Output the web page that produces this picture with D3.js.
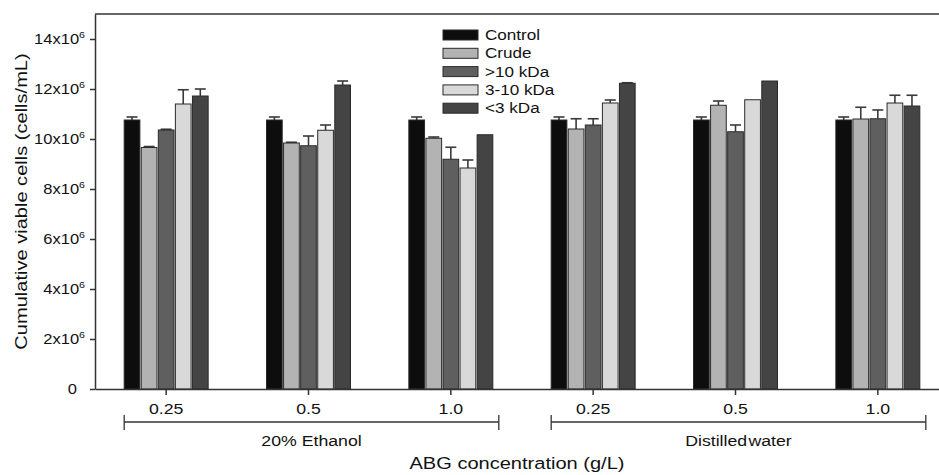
<!DOCTYPE html>
<html><head><meta charset="utf-8">
<script src="https://cdn.jsdelivr.net/npm/d3@7"></script>
<style>body{margin:0;background:#fff} svg{display:block;font-family:"Liberation Sans",Arial,Helvetica,sans-serif}</style>
</head><body><svg id="c" width="939" height="475"></svg>
<script>
// ---- data ----
const groups = ["0.25","0.5","1.0","0.25","0.5","1.0"];
const solvents = ["20% Ethanol","Distilled water"];
const solventOf = [0,0,0,1,1,1];
const series = ["Control","Crude",">10 kDa","3-10 kDa","<3 kDa"];
const control    = [10.76e6,10.76e6,10.76e6,10.76e6,10.76e6,10.76e6];
const controlErr = [0.12e6,0.12e6,0.12e6,0.12e6,0.12e6,0.12e6];
const crude      = [9.66e6,9.84e6,10.03e6,10.40e6,11.35e6,10.80e6];
const crudeErr   = [0.04e6,0.03e6,0.05e6,0.41e6,0.17e6,0.47e6];
const gt10       = [10.36e6,9.73e6,9.19e6,10.56e6,10.29e6,10.81e6];
const gt10Err    = [0.03e6,0.39e6,0.48e6,0.25e6,0.27e6,0.35e6];
const mid3to10   = [11.40e6,10.35e6,8.84e6,11.44e6,11.57e6,11.44e6];
const mid3to10Err= [0.57e6,0.21e6,0.32e6,0.12e6,0,0.31e6];
const lt3        = [11.72e6,12.16e6,10.17e6,12.23e6,12.32e6,11.32e6];
const lt3Err     = [0.28e6,0.16e6,0,0.02e6,0,0.43e6];
const yTicks     = [0,2e6,4e6,6e6,8e6,10e6,12e6,14e6];
const yTickBase  = ["0","2x10","4x10","6x10","8x10","10x10","12x10","14x10"];
const yTickExp   = ["","6","6","6","6","6","6","6"];
const yTitle = "Cumulative viable cells (cells/mL)";
const xTitle = "ABG concentration (g/L)";

const values = [control, crude, gt10, mid3to10, lt3];
const errors = [controlErr, crudeErr, gt10Err, mid3to10Err, lt3Err];
const colors = ["#0d0d0d","#b3b3b3","#5f5f5f","#d9d9d9","#444444"];

// ---- layout ----
const SX = 1.18;
const pL = 95, pR = 949, pT = 14, pB = 389;
const ink = "#333";
const svg = d3.select("#c");

const x0 = d3.scaleBand().domain(d3.range(groups.length)).range([pL,pR]).paddingInner(0.41).paddingOuter(0.205);
const x1 = d3.scaleBand().domain(series).range([0,x0.bandwidth()]).paddingInner(0.08);
const y = d3.scaleLinear().domain([0,15e6]).range([pB,pT]);

function label(parent, x, yy, str, size, anchor, rot){
  const g = parent.append("g").attr("transform", `translate(${x},${yy})` + (rot?` rotate(${rot})`:"") + ` scale(${SX},1)`);
  const t = g.append("text").attr("font-size", size).attr("text-anchor", anchor||"start").attr("fill","#111");
  if (str!=null) t.text(str);
  return t;
}

// top frame line
svg.append("line").attr("x1",pL).attr("x2",pR).attr("y1",pT).attr("y2",pT).attr("stroke",ink).attr("stroke-width",1.5);

// bars
const gBars = svg.append("g");
groups.forEach((gName,i)=>{
  series.forEach((s,k)=>{
    const v = values[k][i], e = errors[k][i];
    const bx = x0(i)+x1(s), bw = x1.bandwidth();
    if (e>0){
      const cx = bx+bw/2;
      gBars.append("line").attr("x1",cx).attr("x2",cx).attr("y1",y(v)).attr("y2",y(v+e)).attr("stroke","#3a3a3a").attr("stroke-width",1.6);
      gBars.append("line").attr("x1",cx-5.5).attr("x2",cx+5.5).attr("y1",y(v+e)).attr("y2",y(v+e)).attr("stroke","#3a3a3a").attr("stroke-width",1.6);
    }
    gBars.append("rect").attr("x",bx).attr("y",y(v)).attr("width",bw).attr("height",y(0)-y(v))
      .attr("fill",colors[k]).attr("stroke","#2a2a2a").attr("stroke-width",1);
  });
});

// y axis
const yAx = svg.append("g").attr("transform",`translate(${pL},0)`)
  .call(d3.axisLeft(y).tickValues(yTicks).tickSize(5).tickSizeOuter(0).tickFormat(""));
yAx.selectAll("path,line").attr("stroke",ink).attr("stroke-width",1.5);
yAx.selectAll(".tick").each(function(d,i){
  const t = d3.select(this);
  const off = yTickExp[i] ? -10 : -18;
  const txt = label(t, off, 0, null, 14, "end");
  txt.attr("dy","0.35em");
  txt.append("tspan").text(yTickBase[i]);
  if (yTickExp[i]) txt.append("tspan").attr("font-size",9).attr("dy","-0.75em").text(yTickExp[i]);
});

// x axis
const xAx = svg.append("g").attr("transform",`translate(0,${pB})`)
  .call(d3.axisBottom(x0).tickSize(6).tickSizeOuter(0).tickFormat(""));
xAx.selectAll("path,line").attr("stroke",ink).attr("stroke-width",1.5);
xAx.selectAll(".tick").each(function(d,i){
  label(d3.select(this), 0, 25, groups[i], 15, "middle");
});

// solvent brackets
solvents.forEach((name,k)=>{
  const idx = d3.range(groups.length).filter(i=>solventOf[i]===k);
  const x1b = x0(idx[0]), x2b = x0(idx[idx.length-1])+x0.bandwidth()+6;
  const by = 422;
  const g = svg.append("g").attr("stroke",ink).attr("stroke-width",1.3);
  g.append("line").attr("x1",x1b).attr("x2",x2b).attr("y1",by).attr("y2",by);
  g.append("line").attr("x1",x1b).attr("x2",x1b).attr("y1",by-7).attr("y2",by+8);
  g.append("line").attr("x1",x2b).attr("x2",x2b).attr("y1",by-7).attr("y2",by+8);
  label(svg, (x1b+x2b)/2, 446, name, 15, "middle").attr("word-spacing", k===1?"-3px":null);
});

// titles
label(svg, (pL+939)/2, 469, xTitle, 17, "middle");
label(svg, 27, (pT+pB)/2, yTitle, 17, "middle", -90);

// legend
const lg = svg.append("g");
series.forEach((s,k)=>{
  const cy = 35 + k*18.3;
  lg.append("rect").attr("x",443).attr("y",cy-5).attr("width",35).attr("height",10)
    .attr("fill",colors[k]).attr("stroke","#2a2a2a").attr("stroke-width",1);
  label(lg, 485, cy+5, s, 14.5, "start");
});
</script></body></html>
